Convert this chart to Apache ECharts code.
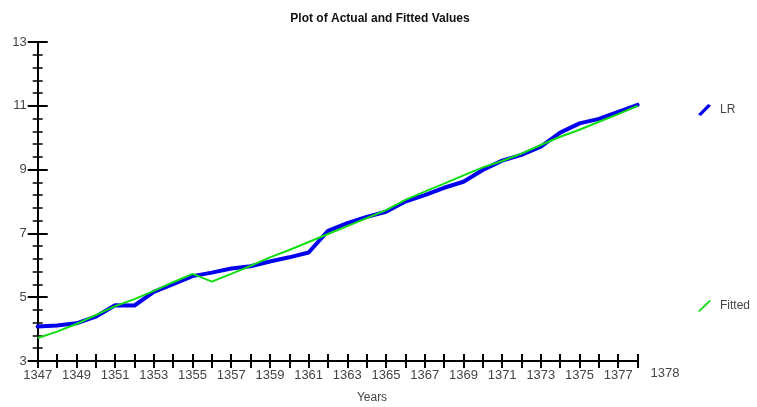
<!DOCTYPE html>
<html>
<head>
<meta charset="utf-8">
<script src="https://cdn.jsdelivr.net/npm/echarts@6/dist/echarts.min.js"></script>
<style>
html,body{margin:0;padding:0;background:#fff;}
#c{width:757px;height:407px;}
</style>
</head>
<body>
<div id="c"></div>
<script>
var years = ['1347','1348','1349','1350','1351','1352','1353','1354','1355','1356','1357','1358','1359','1360','1361','1362','1363','1364','1365','1366','1367','1368','1369','1370','1371','1372','1373','1374','1375','1376','1377','1378'];
var lrValues = [4.08,4.11,4.18,4.39,4.75,4.74,5.17,5.41,5.66,5.77,5.90,5.97,6.12,6.25,6.40,7.08,7.32,7.52,7.68,8.00,8.20,8.43,8.62,8.99,9.28,9.46,9.72,10.16,10.45,10.59,10.81,11.03];
var fittedValues = [3.72,3.92,4.16,4.44,4.72,4.94,5.20,5.47,5.73,5.49,5.73,5.98,6.25,6.48,6.73,6.98,7.23,7.48,7.73,8.05,8.31,8.56,8.82,9.07,9.27,9.50,9.77,10.03,10.25,10.50,10.74,11.00];
var yMin = 3, yMax = 13, yStep = 2;
var titleText = 'Plot of Actual and Fitted Values';
var xName = 'Years';
var lastYearLabel = '1378';

var grey = '#444';
var font = 'Liberation Sans, Arial, sans-serif';
var chart = echarts.init(document.getElementById('c'));
chart.setOption({
  animation: false,
  backgroundColor: '#fff',
  title: {
    text: titleText, left: 375, top: 8, textAlign: 'center',
    textStyle: {fontSize: 12, fontWeight: 'bold', color: '#111', fontFamily: font}
  },
  grid: {left: 37.7, right: 119.4, top: 42, bottom: 46},
  legend: {
    orient: 'vertical', left: 693, top: 99, itemGap: 184,
    itemWidth: 13, itemHeight: 12,
    textStyle: {color: grey, fontSize: 12, fontFamily: font, padding: [0,0,0,4]},
    data: [
      {name: 'LR', icon: 'path://M0,10.2 L10.2,0 L13,1.8 L2.8,12 Z', itemStyle: {color: '#0000ee'}},
      {name: 'Fitted', icon: 'path://M0,11 L11.5,0 L13,1 L1.5,12 Z', itemStyle: {color: '#11dd11'}}
    ]
  },
  graphic: [
    {type: 'text', x: 372, y: 398, style: {text: xName, fill: grey, font: '12px ' + font, textAlign: 'center', textVerticalAlign: 'middle'}},
    {type: 'text', x: 665, y: 373, style: {text: lastYearLabel, fill: grey, font: '13px ' + font, textAlign: 'center', textVerticalAlign: 'middle'}}
  ],
  xAxis: [
    {
      type: 'category', data: years, boundaryGap: false, position: 'bottom',
      axisLine: {onZero: false, lineStyle: {color: '#000', width: 2}},
      axisTick: {show: true, interval: 0, length: 7, lineStyle: {color: '#000', width: 2}},
      axisLabel: {interval: 1, color: grey, fontSize: 13, fontFamily: font, margin: 8},
      splitLine: {show: false}
    },
    {
      type: 'category', data: years, boundaryGap: false, position: 'bottom',
      axisLine: {show: false, onZero: false},
      axisTick: {show: true, inside: true, interval: 0, length: 7, lineStyle: {color: '#000', width: 2}},
      axisLabel: {show: false},
      splitLine: {show: false}
    }
  ],
  yAxis: [
    {
      type: 'value', min: yMin, max: yMax, interval: yStep, position: 'left',
      axisLine: {show: true, onZero: false, lineStyle: {color: '#000', width: 2}},
      axisTick: {show: true, length: 10, lineStyle: {color: '#000', width: 2}},
      minorTick: {show: true, splitNumber: 5, length: 5, lineStyle: {color: '#000', width: 1.5}},
      axisLabel: {color: grey, fontSize: 13, fontFamily: font, margin: 11},
      splitLine: {show: false}
    },
    {
      type: 'value', min: yMin, max: yMax, interval: yStep, position: 'left',
      axisLine: {show: false, onZero: false},
      axisTick: {show: true, inside: true, length: 10, lineStyle: {color: '#000', width: 2}},
      minorTick: {show: true, splitNumber: 5, length: 5, lineStyle: {color: '#000', width: 1.5}},
      axisLabel: {show: false},
      splitLine: {show: false}
    }
  ],
  series: [
    {
      name: 'LR', type: 'line', data: lrValues, xAxisIndex: 0, yAxisIndex: 0,
      symbol: 'none', lineStyle: {color: '#0000ee', width: 4, join: 'round', cap: 'round'}, itemStyle: {color: '#0000ee'}, z: 2
    },
    {
      name: 'Fitted', type: 'line', data: fittedValues, xAxisIndex: 0, yAxisIndex: 0,
      symbol: 'none', lineStyle: {color: '#11dd11', width: 2}, itemStyle: {color: '#11dd11'}, z: 3
    }
  ]
});
</script>
</body>
</html>
